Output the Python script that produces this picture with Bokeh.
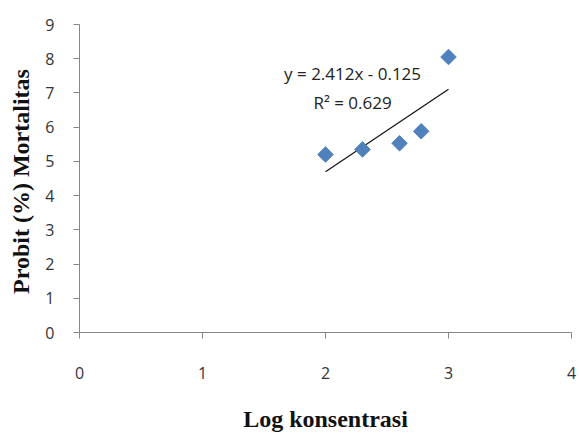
import math
from bokeh.plotting import figure
from bokeh.models import Range1d, FixedTicker, Label
from bokeh.embed import file_html
from bokeh.resources import INLINE

# data
log_konsentrasi = [2.0, 2.301, 2.602, 2.778, 3.0]
probit = [5.2, 5.35, 5.53, 5.88, 8.05]
slope = 2.412
intercept = -0.125
r2 = 0.629
x_ticks = [0, 1, 2, 3, 4]
y_ticks = [0, 1, 2, 3, 4, 5, 6, 7, 8, 9]

p = figure(width=579, height=440, output_backend="svg", toolbar_location=None,
           x_range=Range1d(0, 4), y_range=Range1d(0, 9),
           min_border_left=79, min_border_right=8, min_border_top=24, min_border_bottom=108)
p.outline_line_color = None
p.grid.grid_line_color = None
p.background_fill_color = "white"

for ax in (p.xaxis[0], p.yaxis[0]):
    ax.axis_line_color = "#868686"
    ax.major_tick_line_color = "#868686"
    ax.minor_tick_line_color = None
    ax.major_tick_in = 0
    ax.major_tick_out = 6
    ax.major_label_text_font = "Open Sans"
    ax.major_label_text_font_size = "16px"
    ax.major_label_text_color = "#333333"
    ax.axis_label_text_font = "Liberation Serif"
    ax.axis_label_text_font_style = "bold"
    ax.axis_label_text_font_size = "24px"
    ax.axis_label_text_color = "#111111"

p.xaxis.ticker = FixedTicker(ticks=x_ticks)
p.yaxis.ticker = FixedTicker(ticks=y_ticks)
p.xaxis.major_label_standoff = 28
p.yaxis.major_label_standoff = 19
p.xaxis.axis_label = "Log konsentrasi"
p.yaxis.axis_label = "Probit (%)  Mortalitas"
p.xaxis.axis_label_standoff = 24
p.yaxis.axis_label_standoff = 8

x0, x1 = min(log_konsentrasi), max(log_konsentrasi)
p.line([x0, x1], [slope * x0 + intercept, slope * x1 + intercept], line_color="#111111", line_width=1.2)

p.scatter(log_konsentrasi, probit, marker="square", size=11, angle=math.pi / 4,
          fill_color="#4F81BD", line_color="#4F81BD")

p.add_layout(Label(x=2.22, y=7.57, text=f"y = {slope}x - {abs(intercept)}", text_align="center",
                   text_baseline="middle", text_font="Open Sans", text_font_size="17px",
                   text_color="#222222"))
p.add_layout(Label(x=2.22, y=6.73, text=f"R² = {r2}", text_align="center",
                   text_baseline="middle", text_font="Open Sans", text_font_size="17px",
                   text_color="#222222"))

open("out.html", "w").write(file_html(p, INLINE))
